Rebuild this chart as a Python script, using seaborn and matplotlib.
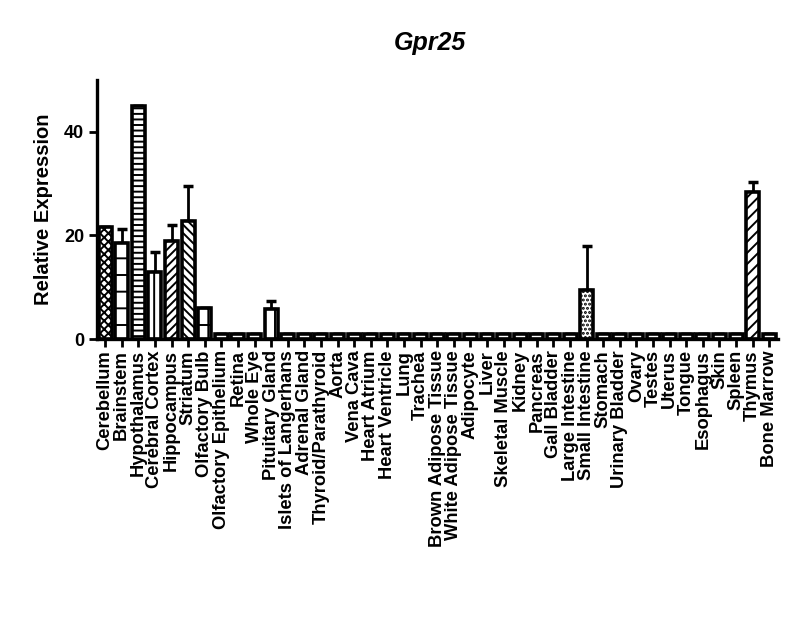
import numpy as np
import pandas as pd
import matplotlib
matplotlib.use('Agg')
import matplotlib.pyplot as plt
import seaborn as sns

tissues = ['Cerebellum', 'Brainstem', 'Hypothalamus', 'Cerebral Cortex', 'Hippocampus',
           'Striatum', 'Olfactory Bulb', 'Olfactory Epithelium', 'Retina', 'Whole Eye',
           'Pituitary Gland', 'Islets of Langerhans', 'Adrenal Gland', 'Thyroid/Parathyroid',
           'Aorta', 'Vena Cava', 'Heart Atrium', 'Heart Ventricle', 'Lung', 'Trachea',
           'Brown Adipose Tissue', 'White Adipose Tissue', 'Adipocyte', 'Liver',
           'Skeletal Muscle', 'Kidney', 'Pancreas', 'Gall Bladder', 'Large Intestine',
           'Small Intestine', 'Stomach', 'Urinary Bladder', 'Ovary', 'Testes', 'Uterus',
           'Tongue', 'Esophagus', 'Skin', 'Spleen', 'Thymus', 'Bone Marrow']
expression = [21.6, 18.6, 45.0, 13.0, 19.0, 22.7, 6.0, 1.0, 1.0, 1.0,
              5.8, 1.0, 1.0, 1.0, 1.0, 1.0, 1.0, 1.0, 1.0, 1.0,
              1.0, 1.0, 1.0, 1.0, 1.0, 1.0, 1.0, 1.0, 1.0, 9.4,
              1.0, 1.0, 1.0, 1.0, 1.0, 1.0, 1.0, 1.0, 1.0, 28.4, 1.0]
sem = [0, 2.7, 0, 3.8, 3.0, 6.9, 0, 0, 0, 0,
       1.5, 0, 0, 0, 0, 0, 0, 0, 0, 0,
       0, 0, 0, 0, 0, 0, 0, 0, 0, 8.5,
       0, 0, 0, 0, 0, 0, 0, 0, 0, 2.0, 0]
hatches = ['xxxx', '-', '---', '||', '////', '\\\\\\\\', '+', '', '', '',
           '|', '', '', '', '', '', '', '', '', '',
           '', '', '', '', '', '', '', '', '', '....',
           '', '', '', '', '', '', '', '', '', '///', '']

df = pd.DataFrame({'tissue': tissues, 'expr': expression, 'sem': sem})

sns.set_style('ticks', {'axes.edgecolor': 'black', 'text.color': 'black',
                        'axes.labelcolor': 'black', 'xtick.color': 'black',
                        'ytick.color': 'black'})
plt.rcParams['font.family'] = ['Liberation Sans', 'DejaVu Sans']
plt.rcParams['hatch.linewidth'] = 1.4
plt.rcParams['hatch.color'] = 'black'

fig = plt.figure(figsize=(8, 6.21), dpi=100)
ax = fig.add_axes([0.121, 0.454, 0.851, 0.417])

x = np.arange(len(tissues))
ax.errorbar(x, df['expr'], yerr=[np.zeros(len(sem)), df['sem']], fmt='none',
            ecolor='black', elinewidth=2, capsize=3.5, capthick=2.5, zorder=1)
sns.barplot(data=df, x='tissue', y='expr', color='white', edgecolor='black',
            linewidth=2.6, width=0.78, saturation=1, ax=ax, zorder=2)
for bar, h in zip(ax.patches, hatches):
    bar.set_hatch(h)
    bar.set_facecolor('white')

ax.set_xlim(-0.5, len(tissues) - 0.5)
ax.set_ylim(0, 50)
ax.set_yticks([0, 20, 40])
ax.set_xlabel('')
ax.set_ylabel('Relative Expression', fontsize=14.5, fontweight='bold', labelpad=8)
ax.set_title('Gpr25', fontsize=18, fontweight='bold', style='italic', pad=22, x=0.49)
ax.tick_params(axis='x', rotation=90, labelsize=13.2, length=6, width=2, pad=2)
ax.tick_params(axis='y', labelsize=13, length=6, width=2, pad=3)
for lbl in ax.get_xticklabels() + ax.get_yticklabels():
    lbl.set_fontweight('bold')
sns.despine(ax=ax)
for s in ['left', 'bottom']:
    ax.spines[s].set_linewidth(2.4)

fig.savefig('out.png', dpi=100)
